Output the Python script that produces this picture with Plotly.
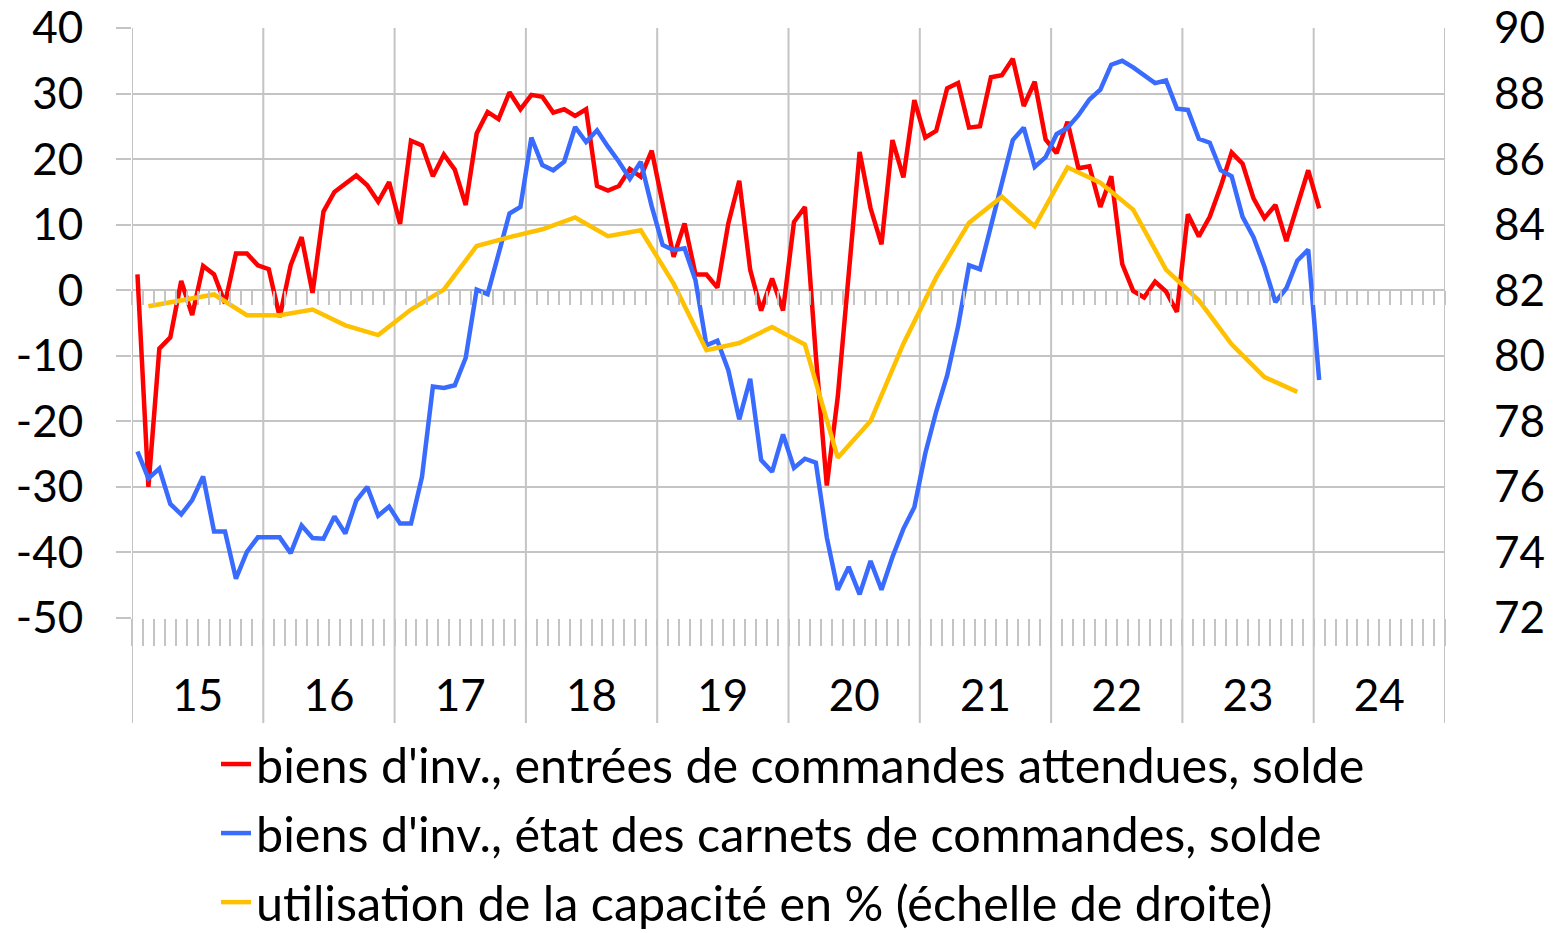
import plotly.graph_objects as go

START_YEAR = 2015
YEARS = list(range(2015, 2026))
YEAR_LABELS = ["15", "16", "17", "18", "19", "20", "21", "22", "23", "24"]
LEFT_TICKS = [-50, -40, -30, -20, -10, 0, 10, 20, 30, 40]
RIGHT_TICKS = [72, 74, 76, 78, 80, 82, 84, 86, 88, 90]

# monthly series, Jan 2015 .. Jan 2024
red_orders = [
    2.4, -30, -8.9, -7.2, 1.4, -3.8, 3.7, 2.4, -2.0, 5.6, 5.6, 3.8,
    3.2, -4.1, 3.8, 8.1, -0.4, 12.0, 15.0, 16.3, 17.5, 16.0, 13.5, 16.5,
    10.1, 22.8, 22.1, 17.4, 20.7, 18.4, 13.0, 23.9, 27.2, 26.1, 30.2, 27.6,
    29.8, 29.5, 27.1, 27.6, 26.6, 27.6, 15.9, 15.2, 15.9, 18.5, 17.3, 21.3,
    13.0, 5.1, 10.2, 2.4, 2.4, 0.4, 10.2, 16.7, 3.1, -3.1, 1.8, -3.1,
    10.4, 12.7, -10.0, -29.8, -16.3, 3.0, 21.1, 12.5, 7.0, 22.9, 17.2, 29.0,
    23.3, 24.3, 30.8, 31.6, 24.8, 25.0, 32.5, 32.8, 35.3, 28.1, 31.8, 23.0,
    20.9, 25.7, 18.6, 18.9, 12.7, 17.4, 4.0, -0.1, -1.1, 1.3, -0.2, -3.3,
    11.6, 8.2, 11.2, 15.8, 21.0, 19.3, 14.0, 11.0, 13.0, 7.5, 13.0, 18.3,
    12.5,
]
blue_books = [
    -24.6, -28.7, -27.2, -32.6, -34.2, -32.0, -28.4, -36.8, -36.8, -44.0, -39.9, -37.7,
    -37.7, -37.7, -40.1, -35.9, -37.8, -37.9, -34.5, -37.1, -32.1, -30.0, -34.4, -33.0,
    -35.6, -35.6, -28.5, -14.7, -14.9, -14.5, -10.3, 0.1, -0.6, 5.7, 11.7, 12.7,
    23.3, 19.1, 18.3, 19.6, 24.9, 22.6, 24.4, 21.9, 19.6, 17.0, 19.6, 12.8,
    6.9, 6.1, 6.4, 1.5, -8.4, -7.7, -12.2, -19.7, -13.5, -25.9, -27.7, -22.0,
    -27.1, -25.7, -26.3, -37.7, -45.7, -42.2, -46.4, -41.3, -45.7, -40.7, -36.4, -33.1,
    -24.9, -18.5, -13.0, -5.5, 3.8, 3.2, 9.7, 15.8, 22.9, 24.8, 18.8, 20.3,
    23.8, 24.8, 26.7, 29.1, 30.6, 34.4, 35.0, 34.0, 32.9, 31.6, 32.0, 27.7,
    27.5, 23.1, 22.5, 18.3, 17.4, 11.2, 8.1, 3.6, -1.8, 0.3, 4.5, 6.2,
    -13.7,
]
# quarterly series, Q1 2015 .. Q4 2023 (right scale)
capacity_util = [
    81.51, 81.69, 81.87, 81.24,
    81.24, 81.41, 80.93, 80.63,
    81.41, 82.02, 83.35, 83.62,
    83.86, 84.22, 83.65, 83.83,
    82.20, 80.17, 80.39, 80.88,
    80.34, 76.89, 78.01, 80.37,
    82.39, 84.06, 84.85, 83.95,
    85.75, 85.28, 84.46, 82.63,
    81.69, 80.35, 79.35, 78.90,
]

NAMES = [
    "biens d'inv., entrées de commandes attendues, solde",
    "biens d'inv., état des carnets de commandes, solde",
    "utilisation de la capacité en % (échelle de droite)",
]
COLORS = ["#FF0000", "#3A6BFF", "#FFC000"]
GRID = "#C4C4C4"
FONT = "Lato"

x_month = [START_YEAR + (i + 0.5) / 12 for i in range(len(red_orders))]
x_quarter = [START_YEAR + (3 * q + 1.5) / 12 for q in range(len(capacity_util))]

fig = go.Figure()
fig.add_trace(go.Scatter(x=x_month, y=red_orders, mode="lines", name=NAMES[0],
                         legendgroup="a", line=dict(color=COLORS[0], width=4.5)))
fig.add_trace(go.Scatter(x=x_month, y=blue_books, mode="lines", name=NAMES[1],
                         legendgroup="b", line=dict(color=COLORS[1], width=4.5)))
fig.add_trace(go.Scatter(x=x_quarter, y=capacity_util, mode="lines", name=NAMES[2],
                         legendgroup="c", line=dict(color=COLORS[2], width=4.5), yaxis="y2"))
# carriers for the monthly tick rows (invisible)
for ax in ("x2", "x3"):
    fig.add_trace(go.Scatter(x=[x_month[0]], y=[None], xaxis=ax, yaxis="y", mode="lines",
                             showlegend=False, hoverinfo="skip"))

xr = [YEARS[0], YEARS[-1]]
ext = -(723 - 618) / 590.0
for yr in YEARS:
    fig.add_shape(type="line", xref="x", yref="paper", x0=yr, x1=yr, y0=ext, y1=1,
                  line=dict(color=GRID, width=2), layer="below")

fig.update_layout(
    width=1555, height=933,
    margin=dict(l=132, r=110, t=28, b=315, autoexpand=False),
    paper_bgcolor="white", plot_bgcolor="white",
    font=dict(family=FONT, size=44, color="#000000"),
    showlegend=True,
    legend=dict(x=(216 - 132) / 1313, xanchor="left", y=(618 - 726) / 590, yanchor="top",
                font=dict(size=48.5, family=FONT), tracegroupgap=3, traceorder="grouped",
                bgcolor="rgba(0,0,0,0)"),
    xaxis=dict(range=xr, tickmode="array",
               tickvals=[y + 0.5 for y in YEARS[:-1]], ticktext=YEAR_LABELS,
               ticks="", showgrid=False, zeroline=False, showline=False, automargin=False,
               ticklabelstandoff=48, tickfont=dict(size=44)),
    xaxis2=dict(range=xr, matches="x", overlaying="x", anchor="free", position=0,
                tickmode="linear", tick0=YEARS[0], dtick=1 / 12, ticks="outside",
                ticklen=27, tickwidth=2, tickcolor=GRID, showticklabels=False,
                showgrid=False, zeroline=False, showline=False, automargin=False),
    xaxis3=dict(range=xr, matches="x", overlaying="x", anchor="free", position=50 / 90,
                tickmode="linear", tick0=YEARS[0], dtick=1 / 12, ticks="outside",
                ticklen=14, tickwidth=2, tickcolor=GRID, showticklabels=False,
                showgrid=False, zeroline=False, showline=False, automargin=False),
    yaxis=dict(range=[-50, 40], tickmode="array", tickvals=LEFT_TICKS,
               ticktext=[str(v) for v in LEFT_TICKS], showgrid=True, gridcolor=GRID,
               gridwidth=2, zeroline=False, ticks="outside", ticklen=15, tickwidth=2,
               tickcolor=GRID, ticklabelstandoff=24, tickfont=dict(size=44), automargin=False),
    yaxis2=dict(range=[72, 90], tickmode="array", tickvals=RIGHT_TICKS,
                ticktext=[str(v) for v in RIGHT_TICKS], overlaying="y", side="right",
                showgrid=False, zeroline=False, ticks="", ticklabelstandoff=48,
                tickfont=dict(size=44), automargin=False),
)

fig.write_html("out.html", config={"displayModeBar": False},
               post_script="document.body.style.margin='0px';")
